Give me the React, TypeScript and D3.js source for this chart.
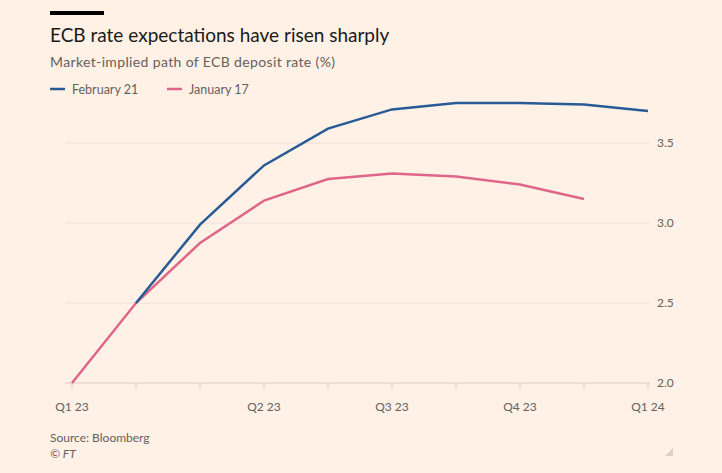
import React from "react";
import * as d3 from "d3";

const periods = ["Jan 23", "Feb 23", "Mar 23", "May 23", "Jun 23", "Jul 23", "Sep 23", "Oct 23", "Dec 23", "Jan 24"];
const tickLabels: Record<string, string> = {
  "Jan 23": "Q1 23",
  "May 23": "Q2 23",
  "Jul 23": "Q3 23",
  "Oct 23": "Q4 23",
  "Jan 24": "Q1 24",
};
const feb21: (number | null)[] = [null, 2.5, 2.99, 3.36, 3.59, 3.71, 3.75, 3.75, 3.74, 3.7];
const jan17: (number | null)[] = [2.0, 2.5, 2.875, 3.14, 3.275, 3.31, 3.29, 3.24, 3.15, null];
const yTicks = [2.0, 2.5, 3.0, 3.5];

const W = 722;
const H = 473;
const BLUE = "#275b95";
const PINK = "#df6689";
const TEXT = "#66605c";
const FONT = "Lato, 'Noto Sans', sans-serif";

export default function App() {
  const x = d3.scalePoint<string>().domain(periods).range([72, 648]);
  const y = d3.scaleLinear().domain([2.0, 3.5]).range([383, 143]);

  const line = d3
    .line<[string, number | null]>()
    .defined((d) => d[1] != null)
    .x((d) => x(d[0]) as number)
    .y((d) => y(d[1] as number));

  const febPairs = periods.map((p, i) => [p, feb21[i]] as [string, number | null]);
  const janPairs = periods.map((p, i) => [p, jan17[i]] as [string, number | null]);

  return (
    <svg
      width={W}
      height={H}
      style={{ position: "absolute", left: 0, top: 0, display: "block" }}
      fontFamily={FONT}
    >
      <rect width={W} height={H} fill="#fff1e5" />
      <rect x={50} y={11} width={54} height={4} fill="#000" />
      <text x={50} y={42} fontSize={19} fill="#1a1a1a">
        ECB rate expectations have risen sharply
      </text>
      <text x={50} y={67} fontSize={14} fill={TEXT} textLength={285} lengthAdjust="spacing">
        Market-implied path of ECB deposit rate (%)
      </text>
      <g fontSize={12.5} fill={TEXT}>
        <line x1={50} x2={65} y1={89} y2={89} stroke={BLUE} strokeWidth={2.5} />
        <text x={72} y={94}>February 21</text>
        <line x1={167} x2={182} y1={89} y2={89} stroke={PINK} strokeWidth={2.5} />
        <text x={189} y={94}>January 17</text>
      </g>

      {yTicks.map((t) => (
        <g key={t}>
          <line
            x1={65}
            x2={650}
            y1={y(t)}
            y2={y(t)}
            stroke={t === 2.0 ? "#d9ccc1" : "#eee0d4"}
            strokeWidth={1}
          />
          <text x={657} y={y(t) + 4} fontSize={12} fill={TEXT}>
            {t.toFixed(1)}
          </text>
        </g>
      ))}

      {periods.map((p) => (
        <line key={p} x1={x(p)} x2={x(p)} y1={383} y2={389} stroke="#d9ccc1" strokeWidth={1} />
      ))}
      {periods
        .filter((p) => tickLabels[p])
        .map((p) => (
          <text key={p} x={x(p)} y={411} fontSize={12} fill={TEXT} textAnchor="middle">
            {tickLabels[p]}
          </text>
        ))}

      <path d={line(janPairs) || ""} fill="none" stroke={PINK} strokeWidth={2.5} />
      <path d={line(febPairs) || ""} fill="none" stroke={BLUE} strokeWidth={2.5} />

      <text x={50} y={442} fontSize={12} fill={TEXT}>
        Source: Bloomberg
      </text>
      <text x={50} y={458} fontSize={12} fill={TEXT} fontStyle="italic">
        © FT
      </text>
      <path d="M665,456 L673,456 L673,448 Z" fill="#ddd0c4" />
    </svg>
  );
}
